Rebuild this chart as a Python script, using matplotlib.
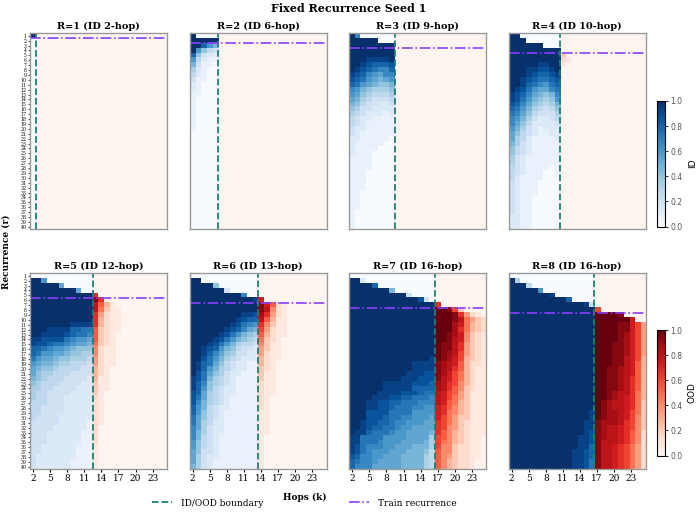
import numpy as np
import matplotlib
matplotlib.use("Agg")
import matplotlib.pyplot as plt
from matplotlib.cm import ScalarMappable
from matplotlib.colors import Normalize
from matplotlib.lines import Line2D

plt.rcParams['font.family'] = ['DejaVu Serif']

# axes categories
hops = list(range(2, 26))          # k = 2..25
recurrences = list(range(1, 41))   # r = 1..40
hop_ticks = [2, 5, 8, 11, 14, 17, 20, 23]

train_recurrence = [1, 2, 3, 4, 5, 6, 7, 8]
id_hops = [2, 6, 9, 10, 12, 13, 16, 16]

# accuracy grids, one string per recurrence row,
# hex level 0..f (f = 1.0), ID columns | OOD columns
acc_r1 = [
    "f|00000000000000000000000",
] + ["0|00000000000000000000000"] * 39

acc_r2 = [
    "f0000|0000000000000000000",
    "fffff|0000000000000000000",
    "ffc97|0000000000000000000",
    "f9643|0000000000000000000",
    "c6322|0000000000000000000",
    "94211|0000000000000000000",
    "73110|0000000000000000000",
    "52100|0000000000000000000",
    "42100|0000000000000000000",
    "31100|0000000000000000000",
    "21000|0000000000000000000",
    "21000|0000000000000000000",
    "11000|0000000000000000000",
    "10000|0000000000000000000",
    "10000|0000000000000000000",
    "10000|0000000000000000000",
    "10000|0000000000000000000",
    "10000|0000000000000000000",
    "10000|0000000000000000000",
    "10000|0000000000000000000",
] + ["00000|0000000000000000000"] * 20

acc_r3 = [
    "fa000000|0000000000000000",
    "fffff000|0000000000000000",
    "ffffffff|0000000000000000",
    "ffffffff|0000000000000000",
    "ffffffff|0000000000000000",
    "fffeeeef|0000000000000000",
    "ffedcccd|0000000000000000",
    "fedcbaac|0000000000000000",
    "edca98aa|0000000000000000",
    "dcb98789|0000000000000000",
    "cb987667|0000000000000000",
    "a9765556|0000000000000000",
    "98654445|0000000000000000",
    "87543334|0000000000000000",
    "76433223|0000000000000000",
    "65332222|0000000000000000",
    "54322212|0000000000000000",
    "43221111|0000000000000000",
    "43211111|0000000000000000",
    "32211111|0000000000000000",
    "32111111|0000000000000000",
    "22111110|0000000000000000",
    "21111100|0000000000000000",
    "21111000|0000000000000000",
    "21110000|0000000000000000",
    "11110000|0000000000000000",
    "11110000|0000000000000000",
    "11110000|0000000000000000",
    "11100000|0000000000000000",
    "11100000|0000000000000000",
    "11100000|0000000000000000",
    "11100000|0000000000000000",
    "11000000|0000000000000000",
    "11000000|0000000000000000",
    "11000000|0000000000000000",
    "11000000|0000000000000000",
    "10000000|0000000000000000",
    "10000000|0000000000000000",
    "10000000|0000000000000000",
    "10000000|0000000000000000",
]

acc_r4 = [
    "ff0000000|000000000000000",
    "fff000000|000000000000000",
    "ffffff000|000000000000000",
    "fffffffff|000000000000000",
    "fffffffff|300000000000000",
    "fffffffff|210000000000000",
    "fffffeeff|100000000000000",
    "fffeeddef|000000000000000",
    "fffedccde|000000000000000",
    "ffedcbbcd|000000000000000",
    "ffecba9bc|000000000000000",
    "fedb988ab|000000000000000",
    "edca8767a|000000000000000",
    "edb976569|000000000000000",
    "dca865457|000000000000000",
    "cb9754346|000000000000000",
    "ba8643335|000000000000000",
    "a97532234|000000000000000",
    "a86422223|000000000000000",
    "975321222|000000000000000",
    "864321122|000000000000000",
    "854211112|000000000000000",
    "753211111|000000000000000",
    "643211111|000000000000000",
    "643211111|000000000000000",
    "532111111|000000000000000",
    "532111111|000000000000000",
    "432111101|000000000000000",
    "432111001|000000000000000",
    "421111000|000000000000000",
    "321110000|000000000000000",
    "321110000|000000000000000",
    "321110000|000000000000000",
    "321100000|000000000000000",
    "321100000|000000000000000",
    "321100000|000000000000000",
    "321100000|000000000000000",
    "221100000|000000000000000",
    "221100000|000000000000000",
    "221100000|000000000000000",
]

acc_r5 = [
    "00000000000|0000000000000",
    "ff900000000|0000000000000",
    "fffff800000|0000000000000",
    "ffffffff800|0000000000000",
    "fffffffffff|a000000000000",
    "fffffffffff|ea10000000000",
    "fffffffffff|c841000000000",
    "fffffffffff|c731100000000",
    "fffffffffff|a521100000000",
    "fffffffffff|a421100000000",
    "fffffffeeee|a421100000000",
    "fffeeeeccbb|8321100000000",
    "ffeeeedcbba|8321000000000",
    "eeddddba998|8321000000000",
    "eddcbba9887|7321000000000",
    "ccba9987666|6211000000000",
    "cb998876655|6211000000000",
    "b9887665554|5211000000000",
    "98776554443|5211000000000",
    "87665444433|4210000000000",
    "86554443333|4210000000000",
    "76544433332|4110000000000",
    "65444333322|3110000000000",
    "55443333222|3110000000000",
    "54433332222|3100000000000",
    "54433322222|2100000000000",
    "44433322222|2100000000000",
    "44333322222|2100000000000",
    "44333322222|2100000000000",
    "43333222222|2100000000000",
    "33333222221|2100000000000",
    "33332222221|2000000000000",
    "33322222211|2000000000000",
    "33322222211|2000000000000",
    "33322222211|2000000000000",
    "33222222111|1000000000000",
    "33222222111|1000000000000",
    "32222222111|1000000000000",
    "32222221111|1000000000000",
    "32222221111|1000000000000",
]

acc_r6 = [
    "000000000000|000000000000",
    "ff0000000000|000000000000",
    "ffff60000000|000000000000",
    "ffffff300000|000000000000",
    "fffffffffa00|000000000000",
    "fffffffffffe|b00000000000",
    "ffffffffffff|eb8210000000",
    "ffffffffffff|ec6210000000",
    "fffffffffeed|da5210000000",
    "ffffffffedcc|c84110000000",
    "fffffffedba9|a63110000000",
    "ffffffedca87|952110000000",
    "fffffedb9765|842110000000",
    "ffffedb97654|732100000000",
    "fffedb975443|631100000000",
    "ffedc9764332|531100000000",
    "ffeca8653322|521100000000",
    "ffdb97543222|421100000000",
    "fecb86432211|421000000000",
    "fec975432211|321000000000",
    "fdb865322111|311000000000",
    "edb754321111|311000000000",
    "eca654321111|211000000000",
    "ec9643221111|211000000000",
    "dc8543221111|211000000000",
    "db8543211111|210000000000",
    "da7543211111|210000000000",
    "c97432211111|210000000000",
    "c96432111111|110000000000",
    "b86432111111|110000000000",
    "b85422111111|110000000000",
    "a85322111111|110000000000",
    "a75322111111|110000000000",
    "a74321111111|100000000000",
    "964321111111|100000000000",
    "964321111111|100000000000",
    "863321111111|100000000000",
    "853221111111|100000000000",
    "853211111111|100000000000",
    "753211111111|100000000000",
]

acc_r7 = [
    "000000000000000|000000000",
    "ff2000000000000|000000000",
    "ffffc0000000000|000000000",
    "fffffff70000000|000000000",
    "ffffffffff30000|000000000",
    "ffffffffffffd30|000000000",
    "fffffffffffffff|a00000000",
    "fffffffffffffff|ffe930000",
    "fffffffffffffff|fffea5210",
    "fffffffffffffff|fffec7532",
    "fffffffffffffff|fffdb7432",
    "fffffffffffffff|fffda7432",
    "fffffffffffffff|ffedb6321",
    "fffffffffffffff|ffecb6321",
    "fffffffffffffff|feeca5321",
    "fffffffffffffff|feeca5321",
    "fffffffffffffff|fedc95321",
    "ffffffffffffffe|fedb94321",
    "fffffffffffeeee|edcb84221",
    "fffffffffffeeee|edca84211",
    "ffffffffffeeedd|edb974211",
    "fffffffffeeeddd|ecb974211",
    "ffffffeeeeedddc|dca964211",
    "ffffffeeeeecccc|dca863211",
    "fffffeeeedddcbb|cb9853111",
    "ffffeeeddccbbba|cb9753111",
    "fffeeddccbbbaaa|cb8743111",
    "fffeeddcbbbaa99|ba8643111",
    "fffddddbbbb9999|ba7643111",
    "fffdddcbbaa9998|b97533111",
    "ffeddccbaa99988|a97532111",
    "ffedccbba998888|a96532111",
    "feecbbba9988887|a86432111",
    "eebbbb999988885|986432110",
    "eebbba999888875|976432110",
    "edbaaa998887775|966322110",
    "edba99988877764|866322110",
    "dcaa99888777754|865322110",
    "cbaa98888777754|864322100",
    "caaa88888777754|864322100",
]

acc_r8 = [
    "000000000000000|000000000",
    "f50000000000000|000000000",
    "fff400000000000|000000000",
    "fffff9000000000|000000000",
    "fffffffe0000000|000000000",
    "ffffffffffc0000|000000000",
    "fffffffffffffe3|000000000",
    "fffffffffffffff|900000000",
    "fffffffffffffff|ffffe0000",
    "fffffffffffffff|ffffffb00",
    "fffffffffffffff|ffffeeb95",
    "fffffffffffffff|ffffeeb95",
    "fffffffffffffff|ffffedb95",
    "fffffffffffffff|ffffedb95",
    "fffffffffffffff|fffeedb95",
    "fffffffffffffff|fffeedb95",
    "fffffffffffffff|fffeedb95",
    "fffffffffffffff|fffeecb94",
    "fffffffffffffff|fffeecb84",
    "fffffffffffffff|ffeedcb84",
    "fffffffffffffff|ffeedcb84",
    "fffffffffffffff|ffeedca84",
    "fffffffffffffff|ffeedca84",
    "fffffffffffffff|ffeedca84",
    "fffffffffffffff|ffedcca74",
    "fffffffffffffff|ffedcba74",
    "fffffffffffffff|fedccba73",
    "fffffffffffffff|fedccba73",
    "ffffffffffffffe|feddcb973",
    "ffffffffffffffe|feddcb963",
    "fffffffffffffee|edddca963",
    "fffffffffffffee|edccba963",
    "fffffffffffffed|edccba862",
    "ffffffffffffeed|edccba862",
    "ffffffffffffeed|ecccba862",
    "ffffffffffffeec|eccba9752",
    "fffffffffffeedc|eccba9752",
    "fffffffffffeedc|eccba9752",
    "fffffffffffeedb|eccba9752",
    "fffffffffffeedb|eccba9752",
]

panels = [acc_r1, acc_r2, acc_r3, acc_r4, acc_r5, acc_r6, acc_r7, acc_r8]

BOUNDARY_COLOR = '#1f7f74'
TRAIN_COLOR = '#8a3ffc'


def decode(rows):
    grid = []
    for row in rows:
        row = row.replace('|', '')
        assert len(row) == len(hops), row
        grid.append([int(c, 16) / 15 for c in row])
    return np.array(grid)


fig = plt.figure(figsize=(6.98, 5.14), dpi=100)

W, H = 698, 514
lefts = [30, 189.7, 349.3, 508.7]
tops = [33.3, 273.3]
pw, ph = 137, 196

hop_arr = np.array(hops)
extent = (hops[0] - 0.5, hops[-1] + 0.5, recurrences[-1] + 0.5, recurrences[0] - 0.5)

for i, rows in enumerate(panels):
    row_i, col_i = divmod(i, 4)
    ax = fig.add_axes([lefts[col_i] / W, 1 - (tops[row_i] + ph) / H, pw / W, ph / H])
    grid = decode(rows)
    id_mask = np.broadcast_to(hop_arr <= id_hops[i], grid.shape)
    ax.imshow(np.ma.masked_where(~id_mask, grid), cmap='Blues', vmin=0, vmax=1,
              extent=extent, aspect='auto', interpolation='nearest')
    ax.imshow(np.ma.masked_where(id_mask, grid), cmap='Reds', vmin=0, vmax=1,
              extent=extent, aspect='auto', interpolation='nearest')
    ax.axvline(id_hops[i] + 0.5, color=BOUNDARY_COLOR, ls='--', lw=1.3)
    ax.axhline(train_recurrence[i] + 0.5, color=TRAIN_COLOR, ls='-.', lw=1.2)
    ax.set_xlim(extent[0], extent[1])
    ax.set_ylim(extent[2], extent[3])
    ax.set_title(f"R={train_recurrence[i]} (ID {id_hops[i]}-hop)",
                 fontsize=7, fontweight='bold', pad=3)
    for sp in ax.spines.values():
        sp.set_color('#999999')
        sp.set_linewidth(1.0)

    if row_i == 1:
        ax.set_xticks(hop_ticks)
        ax.tick_params(axis='x', labelsize=6.5, length=2, pad=1.5)
    else:
        ax.set_xticks([])
    if col_i == 0:
        ax.set_yticks(recurrences)
        ax.set_yticklabels([str(r) for r in recurrences], fontsize=3.3)
        ax.tick_params(axis='y', length=1.5, pad=1, width=0.5)
    else:
        ax.set_yticks([])

# colorbars
for cmap, label, top in [('Blues', 'ID', 101), ('Reds', 'OOD', 330)]:
    cax = fig.add_axes([656.7 / W, 1 - (top + 125.5) / H, 8.5 / W, 125.5 / H])
    cb = fig.colorbar(ScalarMappable(norm=Normalize(0, 1), cmap=cmap), cax=cax)
    cb.set_ticks([0.0, 0.2, 0.4, 0.6, 0.8, 1.0])
    cb.ax.tick_params(labelsize=5.5, length=2, width=0.6, pad=1.5, labelcolor='#555555')
    for t in cb.ax.get_yticklabels():
        t.set_family('DejaVu Sans')
    cb.set_label(label, fontsize=6.5, family='DejaVu Sans', labelpad=4)
    cb.outline.set_linewidth(0.8)

fig.text(0.5, 1 - 8 / H, "Fixed Recurrence Seed 1", ha='center', va='center',
         fontsize=8, fontweight='bold')
fig.text(6 / W, 1 - 252 / H, "Recurrence (r)", rotation=90, ha='center', va='center',
         fontsize=6.5, fontweight='bold')
fig.text(305 / W, 1 - 497 / H, "Hops (k)", ha='center', va='center',
         fontsize=6.5, fontweight='bold')

handles = [Line2D([], [], color=BOUNDARY_COLOR, ls='--', lw=1.3),
           Line2D([], [], color=TRAIN_COLOR, ls='-.', lw=1.2)]
fig.legend(handles, ['ID/OOD boundary', 'Train recurrence'], loc='center',
           bbox_to_anchor=(304 / W, 1 - 503 / H), ncol=2, frameon=False,
           fontsize=6.5, columnspacing=9.5, handlelength=2.2, handletextpad=1.0)

fig.savefig('out.png', dpi=100)
